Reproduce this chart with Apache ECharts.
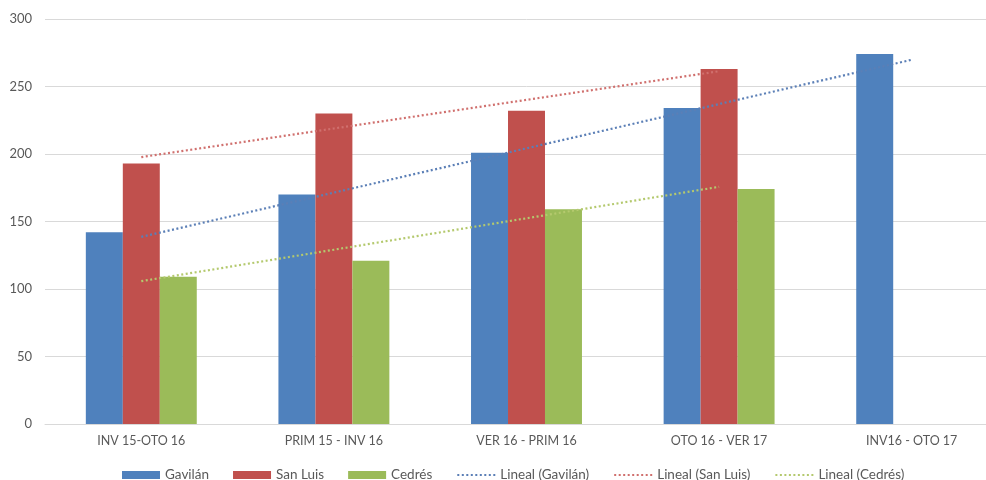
<!DOCTYPE html>
<html>
<head>
<meta charset="utf-8">
<script src="https://cdn.jsdelivr.net/npm/echarts@6/dist/echarts.min.js"></script>
<style>
  html, body { margin: 0; padding: 0; background: #ffffff; overflow: hidden; }
  #chart { width: 1008px; height: 480px; }
</style>
</head>
<body>
<div id="chart"></div>
<script>
// Periods on the x axis
const categories = ['INV 15-OTO 16', 'PRIM 15 - INV 16', 'VER 16 - PRIM 16', 'OTO 16 - VER 17', 'INV16 - OTO 17'];

// Values per site
const gavilan = [142, 170, 201, 234, 274];
const sanLuis = [193, 230, 232, 263, null];
const cedres = [109, 121, 159, 174, null];

// Y axis ticks
const yTicks = [0, 50, 100, 150, 200, 250, 300];

const seriesNames = ['Gavilán', 'San Luis', 'Cedrés'];
const trendNames = ['Lineal (Gavilán)', 'Lineal (San Luis)', 'Lineal (Cedrés)'];

// Least-squares linear trend over the available points
function linearTrend(values) {
  const pts = [];
  values.forEach((v, i) => { if (v !== null && v !== undefined) pts.push([i, v]); });
  const n = pts.length;
  const mx = pts.reduce((s, p) => s + p[0], 0) / n;
  const my = pts.reduce((s, p) => s + p[1], 0) / n;
  let sxy = 0, sxx = 0;
  pts.forEach(p => { sxy += (p[0] - mx) * (p[1] - my); sxx += (p[0] - mx) * (p[0] - mx); });
  const slope = sxy / sxx;
  const icpt = my - slope * mx;
  return values.map((v, i) => (v === null || v === undefined) ? null : +(icpt + slope * i).toFixed(2));
}

const colors = ['#4F81BD', '#C0504D', '#9BBB59'];
const trendColors = ['#5B7FB6', '#D0706E', '#B4C96E'];
const font = 'Lato, "Open Sans", sans-serif';
const textColor = '#595959';

const chart = echarts.init(document.getElementById('chart'));

const barSeries = [gavilan, sanLuis, cedres].map((vals, k) => ({
  name: seriesNames[k],
  type: 'bar',
  data: vals,
  barGap: '0%',
  barCategoryGap: '42.4%',
  itemStyle: { color: colors[k] },
  z: 2
}));

const trendSeries = [gavilan, sanLuis, cedres].map((vals, k) => ({
  name: trendNames[k],
  type: 'line',
  data: linearTrend(vals),
  symbol: 'none',
  silent: true,
  connectNulls: false,
  lineStyle: { color: trendColors[k], width: 2.2, type: [2, 2.5] },
  itemStyle: { color: trendColors[k] },
  z: 3
}));

chart.setOption({
  animation: false,
  backgroundColor: '#ffffff',
  textStyle: { fontFamily: font },
  grid: { left: 45, right: 0, top: 19, bottom: 56, containLabel: false },
  xAxis: {
    type: 'category',
    data: categories,
    boundaryGap: true,
    axisLine: { show: true, lineStyle: { color: '#D9D9D9', width: 1 } },
    axisTick: { show: false },
    axisLabel: { color: textColor, fontSize: 12.5, fontFamily: font, margin: 10 },
    splitLine: { show: false }
  },
  yAxis: {
    type: 'value',
    min: yTicks[0],
    max: yTicks[yTicks.length - 1],
    interval: 50,
    axisLine: { show: false },
    axisTick: { show: false },
    axisLabel: { color: textColor, fontSize: 13, fontFamily: font, margin: 13 },
    splitLine: { lineStyle: { color: '#D9D9D9', width: 1 } }
  },
  legend: {
    top: 463,
    left: 117,
    itemWidth: 38,
    itemHeight: 8,
    itemGap: 24,
    textStyle: { color: textColor, fontSize: 13.5, fontFamily: font },
    data: [
      { name: seriesNames[0], icon: 'rect' },
      { name: seriesNames[1], icon: 'rect' },
      { name: seriesNames[2], icon: 'rect' },
      { name: trendNames[0], itemStyle: { opacity: 0 } },
      { name: trendNames[1], itemStyle: { opacity: 0 } },
      { name: trendNames[2], itemStyle: { opacity: 0 } }
    ]
  },
  series: barSeries.concat(trendSeries)
});
</script>
</body>
</html>
